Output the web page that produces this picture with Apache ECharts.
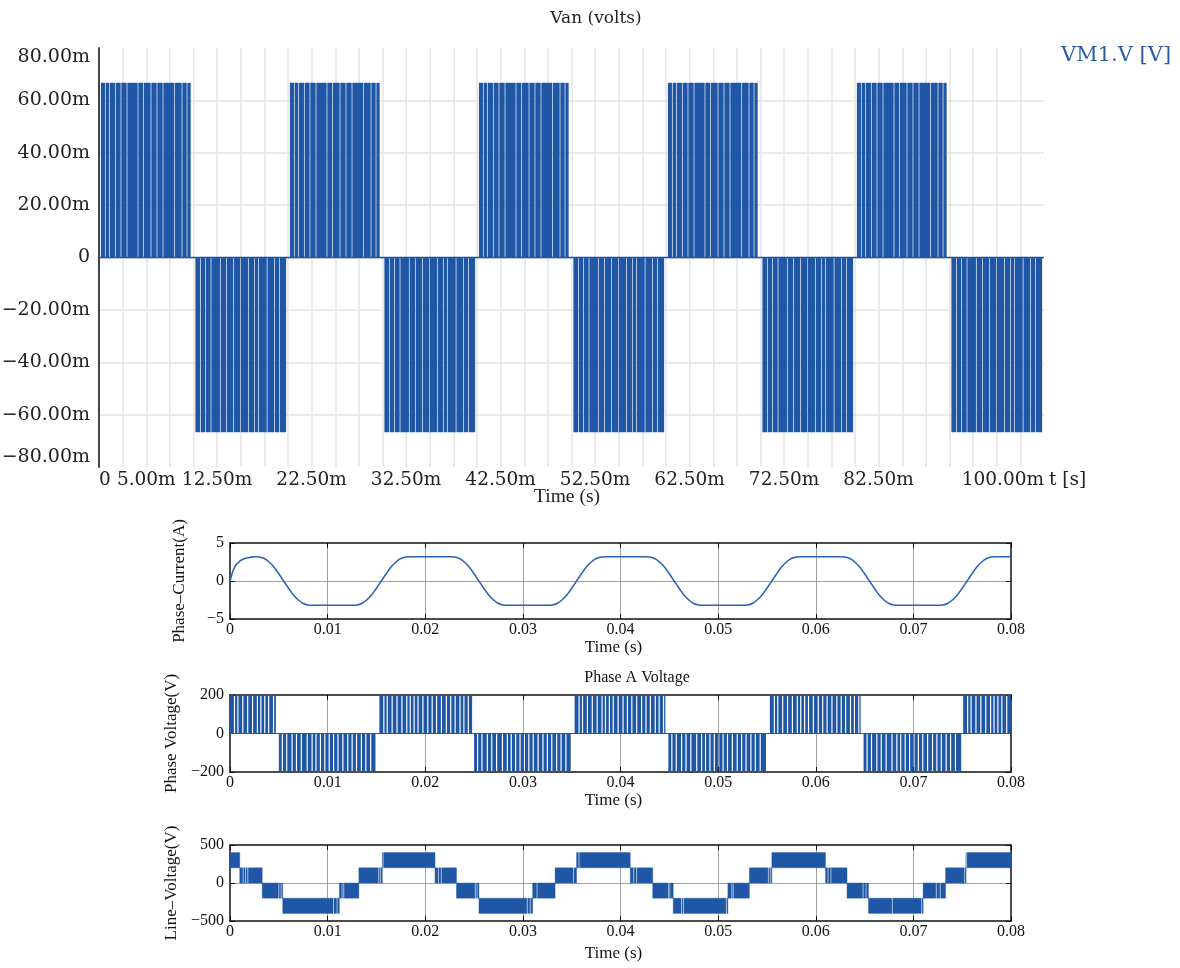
<!DOCTYPE html>
<html><head><meta charset="utf-8">
<script src="https://cdn.jsdelivr.net/npm/echarts@6/dist/echarts.min.js"></script>
<style>html,body{margin:0;padding:0;background:#fff}#c{width:1180px;height:968px}</style>
</head><body><div id="c"></div>
<script>
// ================= DATA =================
// Top chart (Van): PWM blocks [start s, end s, level V]
const vanBlocks = [
  [0.0002, 0.0097, 0.0667], [0.0102, 0.0198, -0.0667],
  [0.0202, 0.0297, 0.0667], [0.0302, 0.0398, -0.0667],
  [0.0402, 0.0497, 0.0667], [0.0502, 0.0598, -0.0667],
  [0.0602, 0.0697, 0.0667], [0.0702, 0.0798, -0.0667],
  [0.0802, 0.0897, 0.0667], [0.0902, 0.0998, -0.0667]
];
// off-pulse positions inside a block (ms after block start)
const vanNotchPosMs = [0.43, 0.89, 1.49, 2.09, 2.73, 3.89, 4.49, 5.27, 5.9, 6.54, 7.74, 8.55, 9.08];
const vanNotchNegMs = [0.49, 1.02, 1.62, 2.6, 3.24, 4.01, 4.72, 5.6, 6.2, 6.66, 7.55, 8.32, 8.88];
const vanXLabelsMs = [0, 5, 12.5, 22.5, 32.5, 42.5, 52.5, 62.5, 72.5, 82.5, 100];

// Phase current, sampled every 0.5 ms from 0 to 80 ms (A)
const currentStepS = 0.0005;
const currentA = [
  0, 1.9, 2.6, 2.95, 3.1, 3.2, 3.15, 2.95, 2.5, 1.85, 0.95, 0, -0.95, -1.85, -2.5, -2.95, -3.15,
  -3.2, -3.2, -3.2, -3.2, -3.2, -3.2, -3.2, -3.2, -3.2, -3.15, -2.95, -2.5, -1.85, -0.95,
  0, 0.95, 1.85, 2.5, 2.95, 3.15, 3.2, 3.2, 3.2, 3.2, 3.2, 3.2, 3.2, 3.2, 3.2, 3.15, 2.95, 2.5, 1.85, 0.95,
  0, -0.95, -1.85, -2.5, -2.95, -3.15, -3.2, -3.2, -3.2, -3.2, -3.2, -3.2, -3.2, -3.2, -3.2, -3.15, -2.95, -2.5, -1.85, -0.95,
  0, 0.95, 1.85, 2.5, 2.95, 3.15, 3.2, 3.2, 3.2, 3.2, 3.2, 3.2, 3.2, 3.2, 3.2, 3.15, 2.95, 2.5, 1.85, 0.95,
  0, -0.95, -1.85, -2.5, -2.95, -3.15, -3.2, -3.2, -3.2, -3.2, -3.2, -3.2, -3.2, -3.2, -3.2, -3.15, -2.95, -2.5, -1.85, -0.95,
  0, 0.95, 1.85, 2.5, 2.95, 3.15, 3.2, 3.2, 3.2, 3.2, 3.2, 3.2, 3.2, 3.2, 3.2, 3.15, 2.95, 2.5, 1.85, 0.95,
  0, -0.95, -1.85, -2.5, -2.95, -3.15, -3.2, -3.2, -3.2, -3.2, -3.2, -3.2, -3.2, -3.2, -3.2, -3.15, -2.95, -2.5, -1.85, -0.95,
  0, 0.95, 1.85, 2.5, 2.95, 3.15, 3.2, 3.2, 3.2, 3.2
];

// Phase A voltage PWM blocks [start s, end s, level V]
const phaseBlocks = [
  [0, 0.0047, 200], [0.0050, 0.0149, -200], [0.0153, 0.0248, 200], [0.0250, 0.0349, -200],
  [0.0353, 0.0446, 200], [0.0449, 0.0549, -200], [0.0553, 0.0646, 200], [0.0649, 0.0749, -200],
  [0.0751, 0.0800, 200]
];
const phaseNotchPosMs = [0.4, 0.75, 1.25, 1.75, 2.25, 2.75, 3.1, 3.5, 3.9, 4.4, 4.9, 5.35, 5.8, 6.3, 6.8, 7.25, 7.7, 8.2, 8.6, 9.05];
const phaseNotchNegMs = [0.3, 0.75, 1.3, 1.75, 2.25, 2.85, 3.35, 3.75, 4.2, 4.65, 5.1, 5.55, 6.0, 6.5, 7.0, 7.45, 7.9, 8.4, 8.85, 9.35];

// Line voltage bands [start s, end s, low V, high V]
const lineBands = [
  [0, 0.0010, 200, 400], [0.0010, 0.0033, 0, 200], [0.0033, 0.0054, -200, 0], [0.0054, 0.0112, -400, -200],
  [0.0112, 0.0132, -200, 0], [0.0132, 0.0156, 0, 200], [0.0156, 0.0210, 200, 400], [0.0210, 0.0232, 0, 200],
  [0.0232, 0.0255, -200, 0], [0.0255, 0.0310, -400, -200], [0.0310, 0.0333, -200, 0], [0.0333, 0.0355, 0, 200],
  [0.0355, 0.0410, 200, 400], [0.0410, 0.0433, 0, 200], [0.0433, 0.0454, -200, 0], [0.0454, 0.0510, -400, -200],
  [0.0510, 0.0532, -200, 0], [0.0532, 0.0555, 0, 200], [0.0555, 0.0610, 200, 400], [0.0610, 0.0632, 0, 200],
  [0.0632, 0.0654, -200, 0], [0.0654, 0.0710, -400, -200], [0.0710, 0.0733, -200, 0], [0.0733, 0.0754, 0, 200],
  [0.0754, 0.0800, 200, 400]
];
const lineNotchMs = [1.3, 1.54, 1.77, 4.95, 5.19, 10.55, 10.92, 11.43, 11.6, 15.18, 15.35, 15.63, 21.3, 21.6,
  25.08, 25.25, 30.4, 30.7, 31.4, 35.14, 35.4, 35.7, 41.3, 41.6, 44.86, 45.0, 46.2, 46.4, 50.8, 51.35, 51.5,
  55.1, 55.3, 61.2, 61.5, 64.8, 65.1, 67.8, 70.8, 72.3, 72.7, 75.2, 75.4];

// ================= BUILD =================
const BLUE = '#1f56a5';
const TOPFONT = 'DejaVu Serif';
const LOWFONT = 'Liberation Serif';

// a block of pulses: filled from 0 to its level, with thin gaps at the off-pulses
function pwmRenderer(posMs, negMs, wS) {
  return function (params, api) {
    const t0 = api.value(0), t1 = api.value(1), lvl = api.value(2);
    const pat = lvl > 0 ? posMs : negMs;
    const cuts = [t0];
    pat.forEach(o => { const n = t0 + o / 1000; if (n + wS < t1) cuts.push(n, n + wS); });
    cuts.push(t1);
    const children = [];
    for (let i = 0; i < cuts.length; i += 2) {
      const p0 = api.coord([cuts[i], lvl]), p1 = api.coord([cuts[i + 1], 0]);
      children.push({ type: 'rect', shape: { x: p0[0], y: Math.min(p0[1], p1[1]), width: p1[0] - p0[0], height: Math.abs(p1[1] - p0[1]) },
        style: { fill: BLUE } });
    }
    return { type: 'group', children };
  };
}
const currentData = currentA.map((v, i) => [i * currentStepS, v]);

const lineNotchW = 0.0001;
function bandItem(params, api) {
  const t0 = api.value(0), t1 = api.value(1), lo = api.value(2), hi = api.value(3);
  const cuts = [t0];
  lineNotchMs.forEach(m => { const n = m / 1000; if (n > t0 && n + lineNotchW < t1) cuts.push(n, n + lineNotchW); });
  cuts.push(t1);
  const children = [];
  for (let i = 0; i < cuts.length; i += 2) {
    const p0 = api.coord([cuts[i], hi]), p1 = api.coord([cuts[i + 1], lo]);
    children.push({ type: 'rect', shape: { x: p0[0], y: p0[1], width: p1[0] - p0[0], height: p1[1] - p0[1] },
      style: { fill: BLUE, stroke: BLUE, lineWidth: 0.4 } });
  }
  return { type: 'group', children };
}

const minus = v => (v < 0 ? '\u2212' + Math.abs(v) : String(v));
const lowLabel = { fontFamily: LOWFONT, fontSize: 16, color: '#111' };
const frameLine = { show: true, onZero: false, lineStyle: { color: '#111', width: 1.5 } };
const inTick = { show: true, inside: true, length: 5, lineStyle: { color: '#111', width: 1 } };
const lowGrid = { show: true, lineStyle: { color: '#8a8a8a', width: 0.8 }, showMinLine: false, showMaxLine: false };

function lowX(gi, nameGap) {
  return [
    { type: 'value', gridIndex: gi, min: 0, max: 0.08, interval: 0.01, position: 'bottom',
      axisLine: frameLine, axisTick: inTick, splitLine: lowGrid,
      axisLabel: Object.assign({ margin: 3, formatter: v => (v === 0 ? '0' : v.toFixed(2)) }, lowLabel),
      name: 'Time (s)', nameLocation: 'middle', nameGap: nameGap,
      nameTextStyle: { fontFamily: LOWFONT, fontSize: 17, color: '#111', padding: [0, 14, 0, 0] } },
    { type: 'value', gridIndex: gi, min: 0, max: 0.08, interval: 0.01, position: 'top',
      axisLine: frameLine, axisTick: inTick, splitLine: { show: false }, axisLabel: { show: false } }
  ];
}
function lowY(gi, lim, name) {
  return [
    { type: 'value', gridIndex: gi, min: -lim, max: lim, interval: lim, position: 'left',
      axisLine: frameLine, axisTick: inTick, splitLine: lowGrid,
      axisLabel: Object.assign({ margin: 6, formatter: minus }, lowLabel),
      name: name, nameLocation: 'middle', nameGap: 42, nameRotate: 90,
      nameTextStyle: { fontFamily: LOWFONT, fontSize: 17, color: '#111' } },
    { type: 'value', gridIndex: gi, min: -lim, max: lim, interval: lim, position: 'right',
      axisLine: frameLine, axisTick: inTick, splitLine: { show: false }, axisLabel: { show: false } }
  ];
}

const option = {
  animation: false,
  backgroundColor: '#fff',
  title: [
    { text: 'Van (volts)', left: 596, top: 10, textAlign: 'center', padding: 0,
      textStyle: { fontFamily: TOPFONT, fontSize: 17, fontWeight: 'normal', color: '#222' } },
    { text: 'Time (s)', left: 567, top: 487, textAlign: 'center', padding: 0,
      textStyle: { fontFamily: LOWFONT, fontSize: 19.5, fontWeight: 'normal', color: '#222' } },
    { text: 'Phase A Voltage', left: 637, top: 670, textAlign: 'center', padding: 0,
      textStyle: { fontFamily: LOWFONT, fontSize: 16, fontWeight: 'normal', color: '#111' } }
  ],
  legend: { data: ['VM1.V [V]'], left: 1056, top: 45, padding: 0, icon: 'rect', itemWidth: 0, itemHeight: 0,
    selectedMode: false, textStyle: { color: '#2b5ca8', fontFamily: TOPFONT, fontSize: 21 } },
  grid: [
    { left: 99, top: 48, width: 945, height: 419, outerBoundsMode: 'none' },
    { left: 230, top: 543, width: 781, height: 76, outerBoundsMode: 'none' },
    { left: 230, top: 695, width: 781, height: 77, outerBoundsMode: 'none' },
    { left: 230, top: 845, width: 781, height: 76, outerBoundsMode: 'none' }
  ],
  xAxis: [
    { type: 'value', gridIndex: 0, min: 0, max: 0.1, interval: 0.0025,
      axisLine: { show: false, onZero: false }, axisTick: { show: false },
      splitLine: { show: true, lineStyle: { color: '#e3e3e3', width: 1.5 }, showMaxLine: false },
      axisLabel: { fontFamily: TOPFONT, fontSize: 18.5, color: '#222', margin: 4,
        alignMinLabel: 'left', alignMaxLabel: 'right',
        formatter: v => { const ms = Math.round(v * 1e6) / 1000; return vanXLabelsMs.indexOf(ms) >= 0 ? (ms === 0 ? '0' : ms.toFixed(2) + 'm') : ''; } },
      name: 't [s]', nameLocation: 'end', nameGap: 5,
      nameTextStyle: { fontFamily: TOPFONT, fontSize: 18.5, color: '#222', verticalAlign: 'top', padding: [4, 0, 0, 0] } },
    ...lowX(1, 18), ...lowX(2, 14), ...lowX(3, 24)
  ],
  yAxis: [
    { type: 'value', gridIndex: 0, min: -0.08, max: 0.08, interval: 0.02,
      axisLine: { show: true, onZero: false, lineStyle: { color: '#444', width: 2 } }, axisTick: { show: false },
      splitLine: { show: true, lineStyle: { color: '#e3e3e3', width: 1.5 }, showMinLine: false, showMaxLine: false },
      axisLabel: { fontFamily: TOPFONT, fontSize: 19, color: '#222', margin: 9,
        verticalAlignMinLabel: 'bottom', verticalAlignMaxLabel: 'top',
        formatter: v => { if (Math.abs(v) < 1e-9) return '0'; const s = (Math.abs(v) * 1000).toFixed(2) + 'm'; return v < 0 ? '\u2212' + s : s; } } },
    ...lowY(1, 5, 'Phase\u2013Current(A)'), ...lowY(2, 200, 'Phase Voltage(V)'), ...lowY(3, 500, 'Line\u2013Voltage(V)')
  ],
  series: [
    // zero (off) level of the Van signal between pulse blocks
    { name: 'VM1.V [V]', type: 'line', xAxisIndex: 0, yAxisIndex: 0, data: [[0, 0], [0.1, 0]], showSymbol: false, symbol: 'none',
      lineStyle: { color: BLUE, width: 1.5 }, itemStyle: { color: BLUE }, silent: true, z: 3 },
    { name: 'VM1.V [V]', type: 'custom', xAxisIndex: 0, yAxisIndex: 0, data: vanBlocks,
      renderItem: pwmRenderer(vanNotchPosMs, vanNotchNegMs, 0.00007), encode: { x: [0, 1], y: [2] }, silent: true, z: 2 },
    { name: 'current', type: 'line', xAxisIndex: 1, yAxisIndex: 1, data: currentData, showSymbol: false, symbol: 'none',
      smooth: 0.4, lineStyle: { color: '#2a63b6', width: 1.6 }, silent: true },
    { name: 'phaseZero', type: 'line', xAxisIndex: 3, yAxisIndex: 3, data: [[0, 0], [0.08, 0]], showSymbol: false, symbol: 'none',
      lineStyle: { color: BLUE, width: 1.2 }, silent: true, z: 3 },
    { name: 'phase', type: 'custom', xAxisIndex: 3, yAxisIndex: 3, data: phaseBlocks,
      renderItem: pwmRenderer(phaseNotchPosMs, phaseNotchNegMs, 0.00012), encode: { x: [0, 1], y: [2] }, silent: true, z: 2 },
    { name: 'line', type: 'custom', xAxisIndex: 5, yAxisIndex: 5, data: lineBands, renderItem: bandItem,
      encode: { x: [0, 1], y: [2, 3] }, silent: true }
  ]
};
echarts.init(document.getElementById('c'), null, { renderer: 'canvas' }).setOption(option);
</script>
</body></html>
